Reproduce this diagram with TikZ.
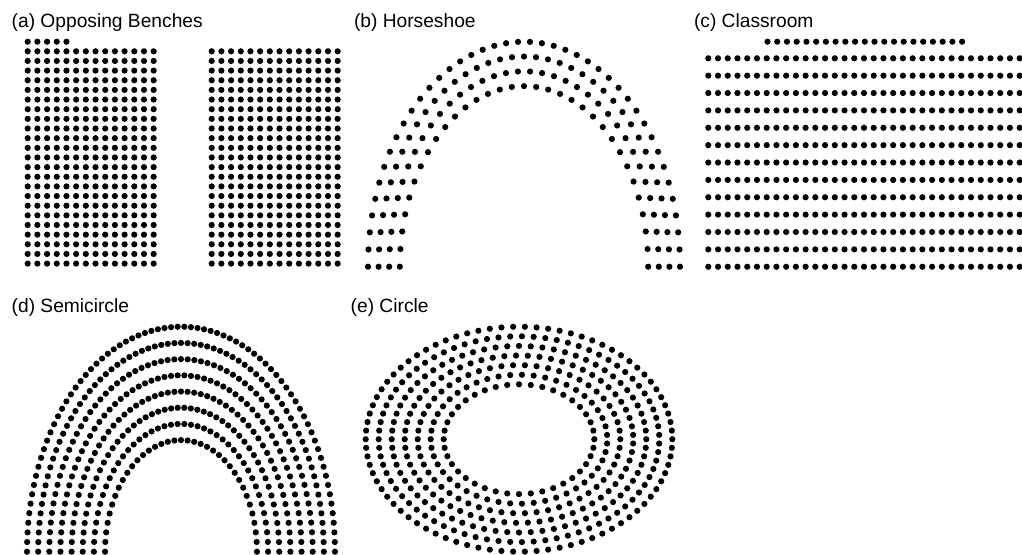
\documentclass[tikz,border=0pt]{standalone}
\usepackage{fontspec}
\setmainfont{Liberation Sans}
\begin{document}
\begin{tikzpicture}[x=1pt,y=-1pt,
  seat/.style={fill=black},
  lbl/.style={anchor=base west, inner sep=0pt, font=\fontsize{19.2}{23}\selectfont}]
\def\seatr{3.1pt}
\useasboundingbox (0,0) rectangle (1022,554);
\fill[white] (0,0) rectangle (1022,554);
\clip (0,0) rectangle (1022,554);

% (a) Opposing Benches
\foreach \j in {0,...,4} {\fill[seat] ({27.7+9.69*\j},41.7) circle[radius=\seatr];}
\foreach \j in {0,...,13} {
  \foreach \k in {0,...,22} {
    \fill[seat] ({27.7+9.69*\j},{51.3+9.65*\k}) circle[radius=\seatr];
    \fill[seat] ({211.7+9.69*\j},{51.3+9.65*\k}) circle[radius=\seatr];
  }
}

% (b) Horseshoe
\foreach \i in {0,...,3} {
  \pgfmathsetmacro\ha{156-10.6*\i}
  \pgfmathsetmacro\hb{225-14.8*\i}
  \pgfmathtruncatemacro\hm{41-3*\i}
  \pgfmathsetmacro\hs{180/\hm}
  \foreach \k in {0,...,\hm} {
    \fill[seat] ({524-\ha*cos(\hs*\k)},{266.7-\hb*sin(\hs*\k)}) circle[radius=\seatr];
  }
}

% (c) Classroom
\foreach \j in {0,...,20} {\fill[seat] ({767.5+9.73*\j},41.7) circle[radius=\seatr];}
\foreach \j in {0,...,32} {
  \foreach \k in {0,...,12} {
    \fill[seat] ({708.3+9.73*\j},{58.3+17.37*\k}) circle[radius=\seatr];
  }
}

% (d) Semicircle
\foreach \i/\m in {0/73,1/68,2/62,3/57,4/52,5/47,6/41,7/36} {
  \pgfmathsetmacro\sa{154-11.15*\i}
  \pgfmathsetmacro\sb{225-16.2*\i}
  \pgfmathsetmacro\ss{180/\m}
  \foreach \k in {0,...,\m} {
    \fill[seat] ({181-\sa*cos(\ss*\k)},{551.7-\sb*sin(\ss*\k)}) circle[radius=\seatr];
  }
}

% (e) Circle
\foreach \i in {0,...,6} {
  \pgfmathsetmacro\ca{153.3-13*\i}
  \pgfmathsetmacro\cb{112.5-9.6*\i}
  \pgfmathtruncatemacro\cn{82-7*\i}
  \pgfmathtruncatemacro\cl{\cn-1}
  \pgfmathsetmacro\cs{360/\cn}
  \foreach \k in {0,...,\cl} {
    \fill[seat] ({519+\ca*cos(180+\cs*\k)},{439.2-\cb*sin(180+\cs*\k)}) circle[radius=\seatr];
  }
}

% labels
\node[lbl] (la) at (11.5,27.3) {(a) Opposing Benches};
\node[lbl] (lb) at (353.8,27.3) {(b) Horseshoe};
\node[lbl] (lc) at (693.8,27.3) {(c) Classroom};
\node[lbl] (ld) at (11.5,312.3) {(d) Semicircle};
\node[lbl] (le) at (350.5,312.3) {(e) Circle};
\end{tikzpicture}
\end{document}
